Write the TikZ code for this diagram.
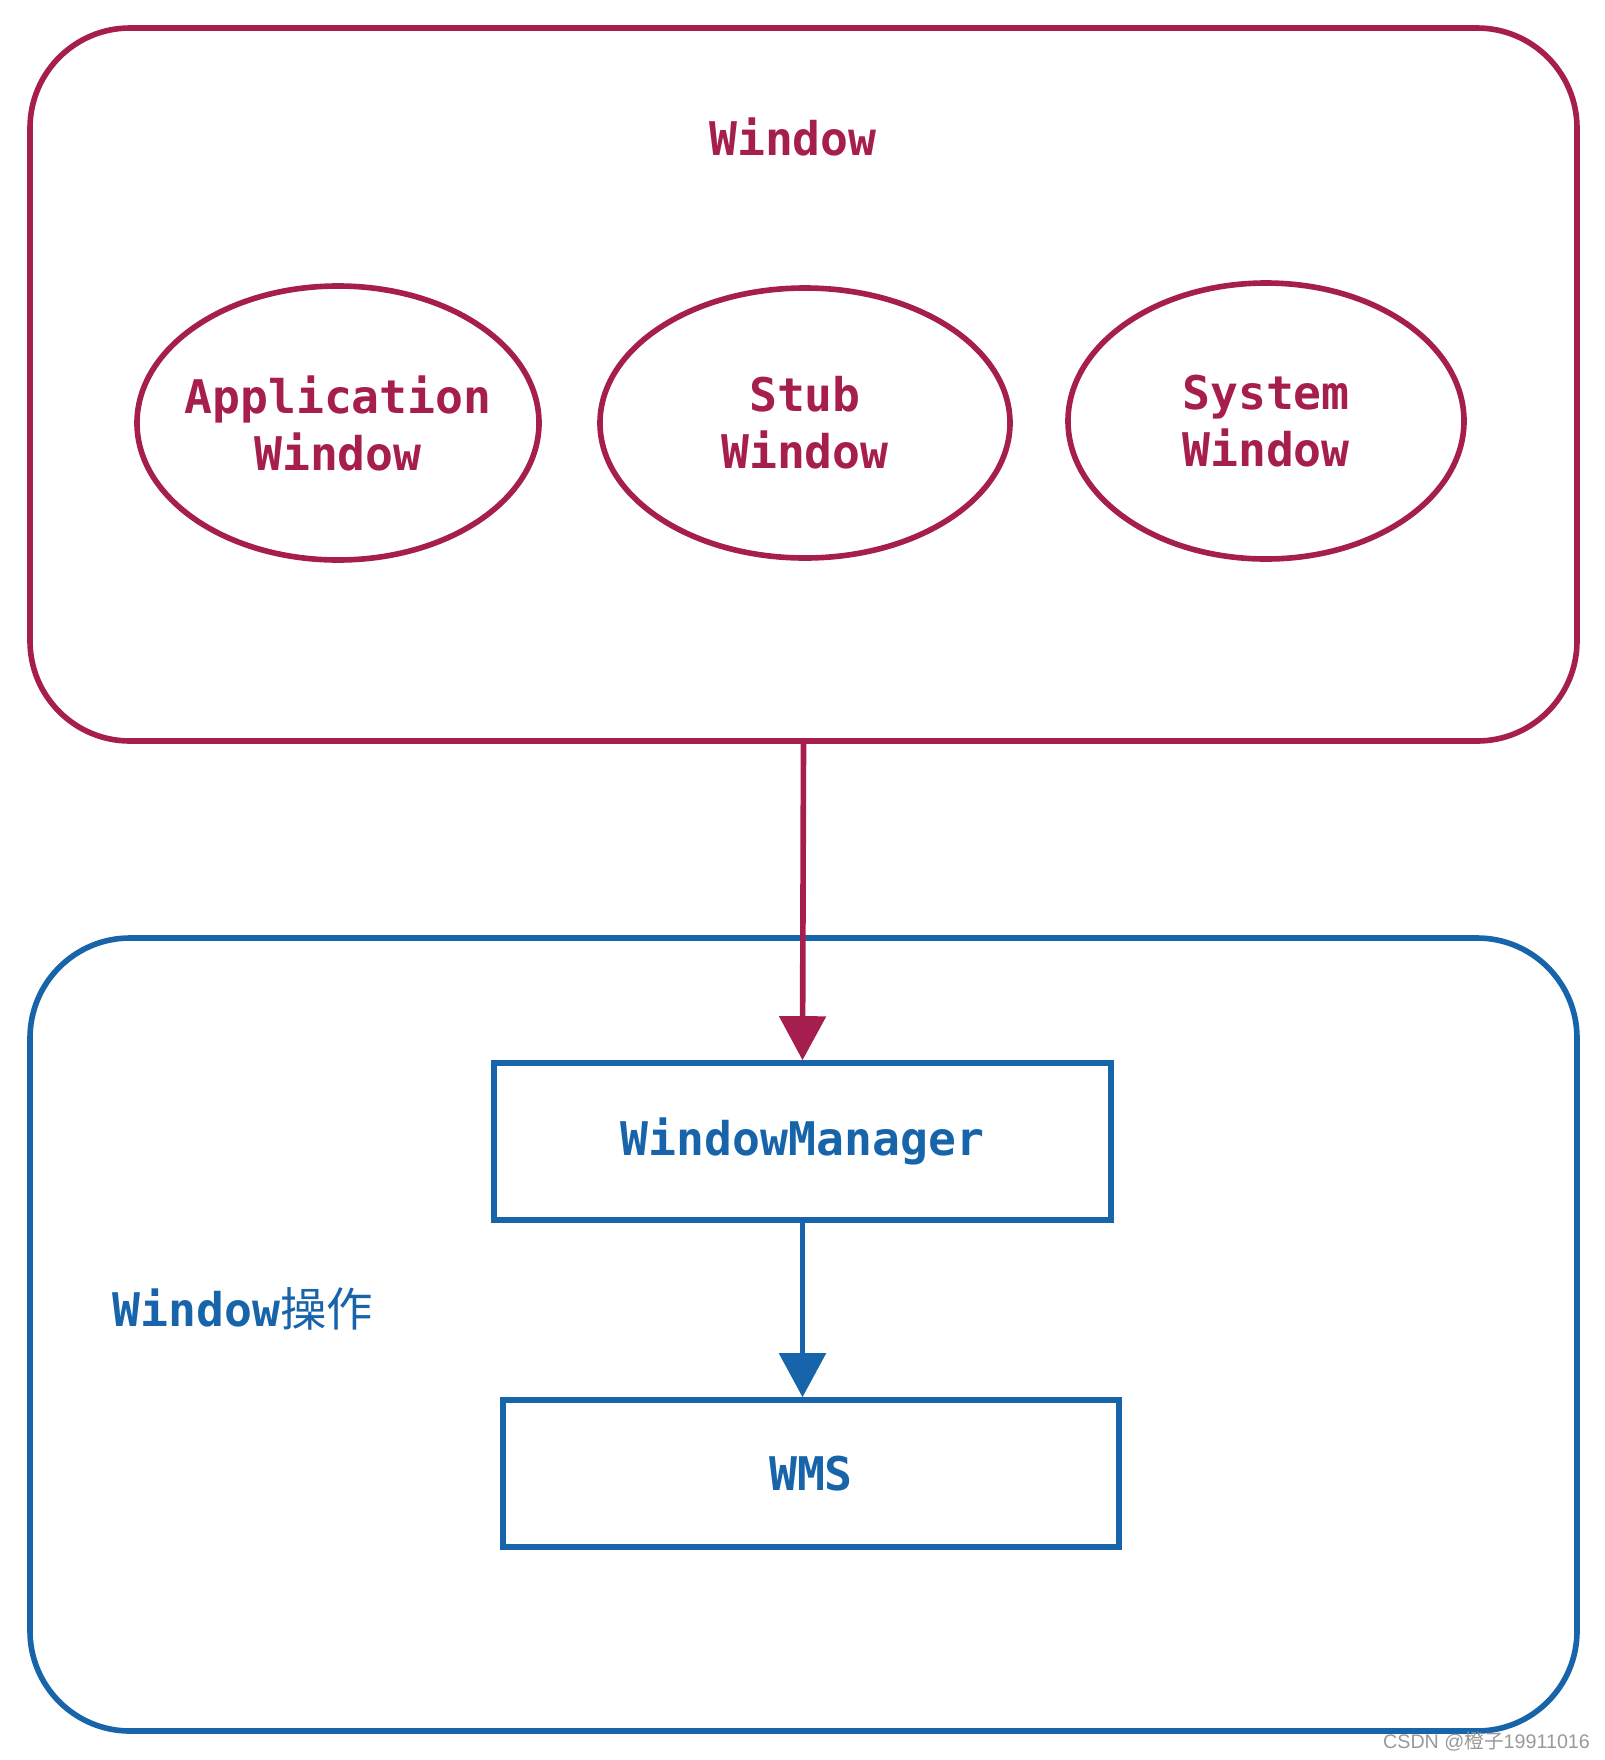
\documentclass[tikz,border=0pt]{standalone}
\usepackage{fontspec}
\setmonofont{DejaVu Sans Mono}
\newfontfamily\cjk{Noto Sans CJK SC}
\newfontfamily\wmfont{Liberation Sans}
\usepackage{xcolor}
\usepackage{tikz}
\usetikzlibrary{arrows.meta, shapes.geometric, calc}

\definecolor{winred}{HTML}{A61E4D}
\definecolor{opsblue}{HTML}{1864AB}

\tikzset{
  sketchtext/.style={font=\ttfamily\bfseries\fontsize{13.2}{16.2}\selectfont, align=center},
  bigbox/.style={draw, line width=1.6pt, rounded corners=1cm, inner sep=0pt},
  winoval/.style={ellipse, draw=winred, line width=1.6pt, inner sep=0pt},
  ovaltext/.style={sketchtext, text=winred, inner sep=0pt},
  stepbox/.style={rectangle, draw=opsblue, text=opsblue, line width=1.6pt, sketchtext, inner sep=0pt},
  fatarrow/.style={line width=1.6pt, -{Triangle[length=4.4mm, width=4.6mm]}}
}

\begin{document}
\begin{tikzpicture}
\useasboundingbox (0,0) rectangle (16.05,-17.6);

% top container
\node[bigbox, draw=winred, minimum width=15.47cm, minimum height=7.13cm] (winbox) at (8.035,-3.845) {};
\node[sketchtext, text=winred] (wintitle) at (7.93,-1.37) {Window};

% the three kinds of window
\node[winoval, minimum width=4.02cm, minimum height=2.74cm,
      label={[ovaltext]center:Application\\Window}] (appwin) at (3.38,-4.23) {};
\node[winoval, minimum width=4.10cm, minimum height=2.70cm,
      label={[ovaltext]center:Stub\\Window}] (stubwin) at (8.05,-4.23) {};
\node[winoval, minimum width=3.96cm, minimum height=2.76cm,
      label={[ovaltext]center:System\\Window}] (syswin) at (12.66,-4.21) {};

% bottom container
\node[bigbox, draw=opsblue, minimum width=15.47cm, minimum height=7.93cm] (opsbox) at (8.035,-13.345) {};
\node[sketchtext, text=opsblue, anchor=west, inner sep=0pt] (opslabel) at (1.12,-13.09) {Window{\mdseries\cjk 操作}};

\node[stepbox, minimum width=6.17cm, minimum height=1.57cm] (wm) at (8.025,-11.415) {WindowManager};
\node[stepbox, minimum width=6.16cm, minimum height=1.47cm] (wms) at (8.11,-14.735) {WMS};

% connectors
\draw[fatarrow, winred] (winbox.south) -- (wm.north);
\draw[fatarrow, opsblue] (wm.south) -- (wm.south |- wms.north);

% watermark
\node[text=gray!80, font=\wmfont\fontsize{5.6}{6}\selectfont, inner sep=0pt] (mark) at (14.865,-17.42) {CSDN @{\cjk 橙子}19911016};
\end{tikzpicture}
\end{document}
